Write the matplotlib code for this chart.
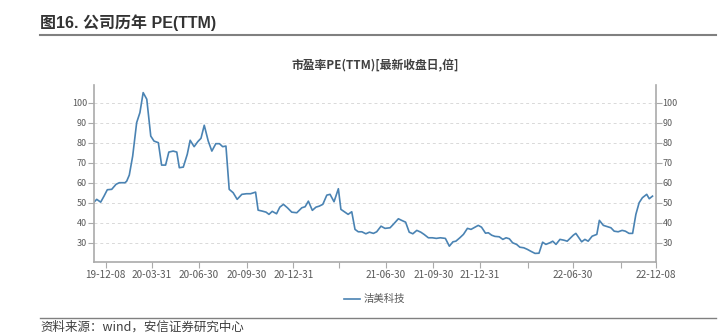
import matplotlib
matplotlib.use("Agg")
import matplotlib.pyplot as plt

plt.rcParams['font.family'] = ['Noto Sans CJK SC', 'DejaVu Sans']

# weekly PE(TTM) series, position in weeks from the start of the window
week = [0, 0.75, 1.85, 2.77, 3.68, 4.9, 6.09, 7.0, 8.58, 9.05, 9.76, 10.7, 11.8, 12.7,
        13.6, 14.6, 15.7, 16.6, 17.8, 18.7, 19.8, 20.7, 21.9, 22.9, 23.6, 24.7, 25.8,
        26.6, 27.7, 28.7, 29.6, 30.5, 31.6, 32.6, 33.7, 34.7, 35.6, 36.5, 37.4, 38.5,
        39.6, 40.9, 42.2, 43.3, 44.7, 45.4, 46.6, 47.6, 48.4, 49.3, 50.5, 51.4, 52.4,
        53.5, 54.7, 56.1, 57.5, 58.4, 59.3, 60.4, 61.4, 62.3, 63.3, 64.4, 65.3, 66.4,
        67.6, 68.3, 69.4, 70.3, 71.3, 72.2, 73.1, 74.1, 75.2, 76.2, 77.3, 78.2, 79.4,
        80.5, 81.9, 82.8, 84.2, 85.1, 86.2, 87.2, 88.2, 89.3, 90.4, 91.3, 92.5, 93.6,
        94.7, 95.8, 97.2, 98.3, 99.3, 100.1, 101.2, 102.2, 103.3, 104.3, 105.4, 106.3,
        107.2, 108.3, 109.1, 110.0, 110.9, 112.1, 113.1, 114.0, 114.9, 115.8, 116.9,
        117.8, 118.9, 119.9, 120.8, 122.0, 123.1, 124.1, 125.0, 126.1, 126.9, 127.8,
        128.9, 130.0, 130.9, 132.6, 133.3, 134.9, 135.8, 136.7, 137.8, 139.1, 139.8,
        140.9, 142.1, 143.0, 143.9, 145.0, 146.1, 147.0, 148.0, 149.0, 149.9, 150.8,
        151.7, 152.9, 153.6, 154.5]
pe = [50.3, 51.7, 50.3, 53.3, 56.5, 56.7, 59.2, 60, 60, 60.8, 63.8, 73.3, 90, 95,
      105, 101.7, 83.3, 80.8, 80, 68.8, 68.8, 75.3, 75.8, 75.3, 67.5, 67.8, 74.2,
      81.2, 78, 80.5, 82.2, 88.7, 80.8, 75.8, 79.5, 79.5, 78, 78.3, 56.7, 55,
      51.7, 54.2, 54.5, 54.5, 55.3, 46.3, 45.8, 45.3, 44.2, 45.7, 44.5, 47.8, 49.2,
      47.5, 45.3, 45, 47.5, 48, 50.8, 46.2, 47.8, 48.3, 49.2, 53.8, 54.2, 50.5,
      57, 46.7, 45.3, 44.2, 45.5, 36.7, 35.5, 35.5, 34.5, 35.3, 34.7, 35.5, 38.3,
      37.2, 37.5, 39.2, 42, 41.2, 40.3, 35.3, 34.5, 36.2, 35.3, 34.2, 32.5, 32.5,
      32.2, 32.5, 32.2, 28.3, 30.5, 30.8, 32.5, 34.2, 37.2, 36.7, 37.8, 38.7,
      37.8, 34.8, 35, 33.8, 33.2, 33, 31.7, 32.5, 32, 30, 29.2,
      27.8, 27.5, 26.7, 25.8, 24.7, 24.8, 30.3, 29.2, 30, 30.8, 29.2,
      31.7, 31.3, 30.8, 33.8, 34.7, 30.5, 31.7, 30.8, 33.3, 34.2, 41.2,
      38.7, 38, 37.5, 35.8, 35.5, 36.2, 35.8, 34.7, 34.7, 44.2, 50,
      52.5, 54.2, 52, 53.3]

tick_pos = [3.24, 16.0, 29.0, 42.2, 55.1, 67.9, 80.8, 93.9, 106.8, 120.1, 132.4, 145.7, 155.4]
tick_lbl = ['19-12-08', '20-03-31', '20-06-30', '20-09-30', '20-12-31', '',
            '21-06-30', '21-09-30', '21-12-31', '', '22-06-30', '', '22-12-08']

fig = plt.figure(figsize=(7.27, 3.36), dpi=100)
ax = fig.add_axes([0.1293, 0.2202, 0.7727, 0.5268])

ax.plot(week, pe, color='#4a83b3', lw=1.2, label='洁美科技')

ax.set_xlim(0, 155.4)
ax.set_ylim(20.4, 108.8)
ax.set_yticks(range(30, 101, 10))
ax.set_xticks(tick_pos)
ax.set_xticklabels(tick_lbl)

ax.grid(axis='y', color='#d9d9d9', ls=(0, (3, 3)), lw=0.7)
ax.set_axisbelow(True)

for s in ['left', 'right', 'bottom']:
    ax.spines[s].set_color('#aaaaaa')
    ax.spines[s].set_linewidth(1.2)
ax.spines['top'].set_visible(False)

ax.tick_params(axis='y', right=True, labelright=True, length=4, width=0.8,
               color='#aaaaaa', labelsize=6.5, labelcolor='#595959', pad=1)
ax.tick_params(axis='x', length=4, width=0.8, color='#aaaaaa',
               labelsize=7.2, labelcolor='#595959', pad=2)

ax.set_title('市盈率PE(TTM)[最新收盘日,倍]', fontsize=8.5, fontweight='bold',
             color='#404040', pad=11)

ax.legend(loc='upper center', bbox_to_anchor=(0.5, -0.13), frameon=False,
          fontsize=7.5, labelcolor='#595959', handlelength=1.5, handletextpad=0.4)

fig.text(0.055, 0.932, '图16. 公司历年 PE(TTM)', fontsize=11.5, fontweight='bold',
         color='#333333', va='center', family=['Liberation Sans', 'Noto Sans CJK SC'])
fig.add_artist(plt.Line2D([0.055, 0.985], [0.895, 0.895], color='#808080', lw=1.5))
fig.add_artist(plt.Line2D([0.055, 0.985], [0.053, 0.053], color='#808080', lw=1.0))
fig.text(0.055, 0.025, '资料来源：wind，安信证券研究中心', fontsize=9,
         color='#404040', va='center', style='italic')

fig.savefig('out.png', dpi=100)
